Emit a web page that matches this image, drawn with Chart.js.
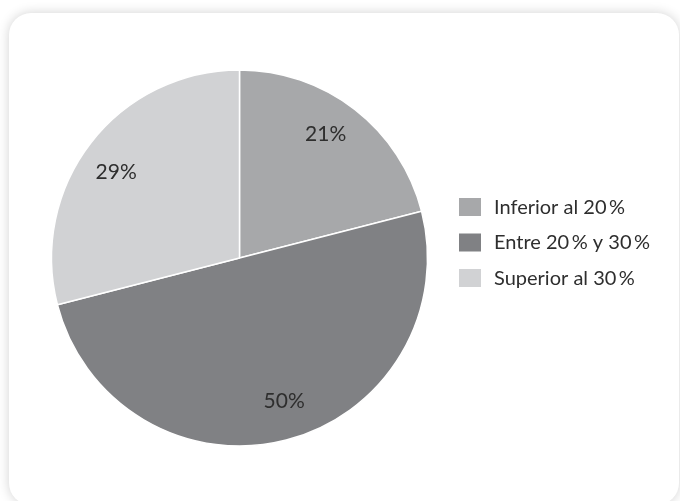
<!DOCTYPE html>
<html>
<head>
<meta charset="utf-8">
<script src="https://cdn.jsdelivr.net/npm/chart.js@4/dist/chart.umd.min.js"></script>
<style>
  html, body {
    margin: 0;
    padding: 0;
    background: #fff;
    width: 680px;
    height: 501px;
    overflow: hidden;
  }
  .card {
    position: absolute;
    left: 9px;
    top: 13px;
    width: 670px;
    height: 492px;
    background: #fff;
    border-radius: 22px;
    box-shadow: 0 0 12px rgba(0, 0, 0, 0.18);
  }
  #wrap {
    position: absolute;
    left: 0;
    top: 0;
    width: 680px;
    height: 501px;
  }
</style>
</head>
<body>
<div class="card"></div>
<div id="wrap"><canvas id="chart"></canvas></div>
<script>
const categories = ['Inferior al 20\u2009%', 'Entre 20\u2009% y 30\u2009%', 'Superior al 30\u2009%'];
const shares = [21, 50, 29];
const sliceColors = ['#a7a8aa', '#808184', '#d1d2d4'];

const FONT = 'Lato, "Open Sans", sans-serif';
const TEXT_COLOR = '#2e2e2e';

// percentage text inside each slice
const sliceLabels = {
  id: 'sliceLabels',
  afterDatasetsDraw(chart) {
    const ctx = chart.ctx;
    const meta = chart.getDatasetMeta(0);
    ctx.save();
    ctx.font = '21px ' + FONT;
    ctx.fillStyle = TEXT_COLOR;
    ctx.textAlign = 'center';
    ctx.textBaseline = 'middle';
    meta.data.forEach((arc, i) => {
      const p = arc.getProps(['x', 'y', 'startAngle', 'endAngle', 'outerRadius'], true);
      const mid = (p.startAngle + p.endAngle) / 2 - 0.05;
      const r = p.outerRadius * 0.8;
      ctx.fillText(shares[i] + '%', p.x + Math.cos(mid) * r, p.y + Math.sin(mid) * r);
    });
    ctx.restore();
  }
};

// legend drawn to the right of the pie
const sideLegend = {
  id: 'sideLegend',
  afterDraw(chart) {
    const ctx = chart.ctx;
    const left = 459, top = 198, step = 35.5;
    ctx.save();
    ctx.font = '20px ' + FONT;
    ctx.textBaseline = 'middle';
    categories.forEach((label, i) => {
      const y = top + i * step;
      ctx.fillStyle = sliceColors[i];
      ctx.fillRect(left, y, 22, 18);
      ctx.fillStyle = TEXT_COLOR;
      ctx.fillText(label, left + 35, y + 9.5);
    });
    ctx.restore();
  }
};

new Chart(document.getElementById('chart'), {
  type: 'pie',
  data: {
    labels: categories,
    datasets: [{
      data: shares,
      backgroundColor: sliceColors,
      borderColor: '#ffffff',
      borderWidth: 1.5
    }]
  },
  options: {
    responsive: true,
    maintainAspectRatio: false,
    animation: false,
    layout: {
      padding: { left: 50.75, top: 69.25, right: 251.75, bottom: 54.25 }
    },
    plugins: {
      legend: { display: false },
      tooltip: { enabled: false }
    }
  },
  plugins: [sliceLabels, sideLegend]
});
</script>
</body>
</html>
